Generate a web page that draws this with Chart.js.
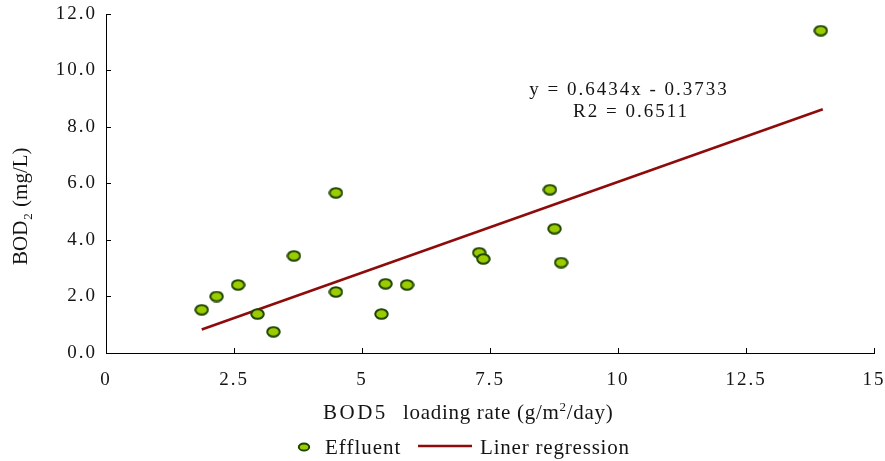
<!DOCTYPE html>
<html><head><meta charset="utf-8">
<script src="https://cdn.jsdelivr.net/npm/chart.js@4"></script>
<style>html,body{margin:0;padding:0;background:#fff;} canvas{display:block;}</style>
</head><body>
<canvas id="c" width="885" height="461"></canvas>
<script>
// ---- data ----
const effluentX = [1.87, 2.16, 2.58, 2.96, 3.27, 3.67, 4.49, 4.49, 5.38, 5.46, 5.88, 7.29, 7.37, 8.67, 8.76, 8.89, 13.96];
const effluentY = [1.53, 2.00, 2.41, 1.38, 0.75, 3.44, 5.67, 2.16, 1.38, 2.45, 2.41, 3.55, 3.33, 5.78, 4.40, 3.20, 11.41];
const regressionX = [1.87, 14.0];
const regressionY = [0.83, 8.63];
const xTickValues = [0, 2.5, 5, 7.5, 10, 12.5, 15];
const xTickLabels = ['0', '2.5', '5', '7.5', '10', '12.5', '15'];
const yTickValues = [0, 2, 4, 6, 8, 10, 12];
const yTickLabels = ['0.0', '2.0', '4.0', '6.0', '8.0', '10.0', '12.0'];
const seriesNames = ['Effluent', 'Liner regression'];
const equationLines = ['y = 0.6434x - 0.3733', 'R2 = 0.6511'];
const xTitleParts = ['BOD5', 'loading rate (g/m', '2', '/day)'];
const yTitleParts = ['BOD', '2', ' (mg/L)'];

// ---- styles ----
const FONT = '"Liberation Serif", "Times New Roman", serif';
const MARK_FILL = '#9ccc00';
const MARK_EDGE = '#1d4500';
const LINE_COLOR = '#8e0b0b';
const TEXT = '#141414';

function makeMarker(w, h) {
  const c = document.createElement('canvas');
  c.width = w; c.height = h;
  const g = c.getContext('2d');
  g.beginPath();
  g.ellipse(w / 2, h / 2, w / 2 - 1.25, h / 2 - 1.25, 0, 0, Math.PI * 2);
  g.fillStyle = MARK_FILL; g.fill();
  g.lineWidth = 2; g.strokeStyle = MARK_EDGE; g.stroke();
  return c;
}
const marker = makeMarker(15, 12);

const textPlugin = {
  id: 'textPlugin',
  beforeDraw(chart) { chart.ctx.letterSpacing = '2px'; },
  afterDraw(chart) {
    const ctx = chart.ctx;
    ctx.save();
    ctx.fillStyle = TEXT;
    ctx.textBaseline = 'alphabetic';
    // equation
    ctx.font = '19px ' + FONT;
    ctx.letterSpacing = '2px';
    ctx.textAlign = 'center';
    ctx.fillText(equationLines[0], 629, 95);
    ctx.fillText(equationLines[1], 631, 117);
    // x title
    ctx.textAlign = 'left';
    ctx.font = '21px ' + FONT;
    ctx.letterSpacing = '2.5px';
    ctx.fillText(xTitleParts[0], 323, 419);
    ctx.letterSpacing = '0.7px';
    let x = 403;
    ctx.fillText(xTitleParts[1], x, 419);
    x += ctx.measureText(xTitleParts[1]).width;
    ctx.font = '13px ' + FONT;
    ctx.fillText(xTitleParts[2], x, 411);
    x += ctx.measureText(xTitleParts[2]).width;
    ctx.font = '21px ' + FONT;
    ctx.fillText(xTitleParts[3], x, 419);
    // y title (rotated)
    ctx.save();
    ctx.translate(27, 265);
    ctx.rotate(-Math.PI / 2);
    ctx.letterSpacing = '0px';
    ctx.font = '21px ' + FONT;
    ctx.fillText(yTitleParts[0], 0, 0);
    let w = ctx.measureText(yTitleParts[0]).width;
    ctx.font = '13px ' + FONT;
    ctx.fillText(yTitleParts[1], w + 1, 5);
    w += 1 + ctx.measureText(yTitleParts[1]).width;
    ctx.font = '21px ' + FONT;
    ctx.fillText(yTitleParts[2], w + 1, 0);
    ctx.restore();
    // legend
    ctx.beginPath();
    ctx.ellipse(304, 447, 5.2, 3.6, 0, 0, Math.PI * 2);
    ctx.fillStyle = MARK_FILL; ctx.fill();
    ctx.lineWidth = 2; ctx.strokeStyle = MARK_EDGE; ctx.stroke();
    ctx.fillStyle = TEXT;
    ctx.font = '21px ' + FONT;
    ctx.letterSpacing = '1px';
    ctx.fillText(seriesNames[0], 325, 454);
    ctx.beginPath();
    ctx.moveTo(418, 446); ctx.lineTo(472, 446);
    ctx.lineWidth = 2.5; ctx.strokeStyle = LINE_COLOR; ctx.stroke();
    ctx.letterSpacing = '0.8px';
    ctx.fillText(seriesNames[1], 480, 454);
    ctx.restore();
  }
};

new Chart(document.getElementById('c'), {
  type: 'scatter',
  data: {
    datasets: [
      {
        label: seriesNames[0],
        data: effluentX.map((v, i) => ({ x: v, y: effluentY[i] })),
        pointStyle: marker,
        pointRadius: 6,
        showLine: false
      },
      {
        label: seriesNames[1],
        type: 'line',
        data: regressionX.map((v, i) => ({ x: v, y: regressionY[i] })),
        borderColor: LINE_COLOR,
        borderWidth: 2.5,
        pointRadius: 0,
        fill: false,
        tension: 0
      }
    ]
  },
  options: {
    responsive: false,
    animation: false,
    events: [],
    layout: { padding: { top: 14, right: 11, left: 0, bottom: 0 } },
    plugins: { legend: { display: false }, tooltip: { enabled: false }, title: { display: false } },
    scales: {
      x: {
        type: 'linear', min: 0, max: 15,
        afterFit(s) { s.height = 108; s.paddingLeft = 0; s.paddingRight = 0; s.paddingTop = 0; s.paddingBottom = 0; },
        afterBuildTicks(s) { s.ticks = xTickValues.map(v => ({ value: v })); },
        grid: { drawOnChartArea: false, drawTicks: true, tickLength: -5, color: '#000', lineWidth: 1 },
        border: { display: true, color: '#000', width: 1 },
        ticks: {
          padding: 21, color: TEXT, font: { family: FONT, size: 19 }, maxRotation: 0, autoSkip: false,
          callback(v, i) { return xTickLabels[i]; }
        }
      },
      y: {
        type: 'linear', min: 0, max: 12,
        afterFit(s) { s.width = 106; s.paddingLeft = 0; s.paddingRight = 0; s.paddingTop = 0; s.paddingBottom = 0; },
        afterBuildTicks(s) { s.ticks = yTickValues.map(v => ({ value: v })); },
        grid: { drawOnChartArea: false, drawTicks: true, tickLength: -5, color: '#000', lineWidth: 1 },
        border: { display: true, color: '#000', width: 1 },
        ticks: {
          padding: 14, color: TEXT, font: { family: FONT, size: 19 }, autoSkip: false,
          callback(v, i) { return yTickLabels[i]; }
        }
      }
    }
  },
  plugins: [textPlugin]
});
</script>
</body></html>
